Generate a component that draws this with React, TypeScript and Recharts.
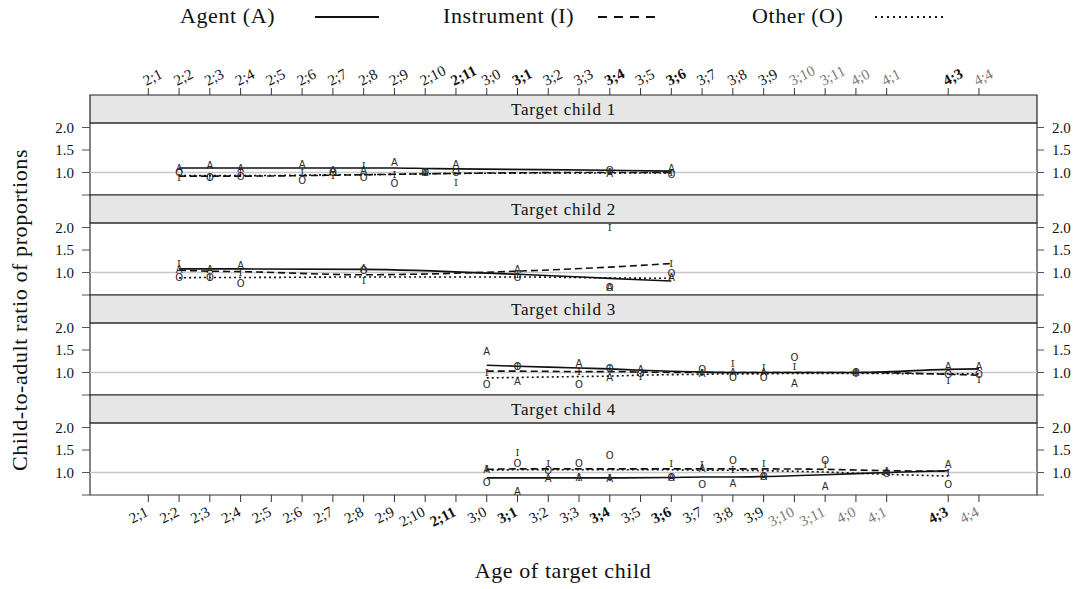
import React from 'react';
import { ComposedChart, XAxis, YAxis, Line, Scatter, ReferenceArea, ReferenceLine } from 'recharts';

// Ages are in months (2;1 = 25 months)
const tickAges = [25, 26, 27, 28, 29, 30, 31, 32, 33, 34, 35, 36, 37, 38, 39, 40, 41, 42, 43, 44, 45, 46, 47, 48, 49, 51, 52];
const tickLabels = ['2;1', '2;2', '2;3', '2;4', '2;5', '2;6', '2;7', '2;8', '2;9', '2;10', '2;11', '3;0', '3;1', '3;2', '3;3', '3;4', '3;5', '3;6', '3;7', '3;8', '3;9', '3;10', '3;11', '4;0', '4;1', '4;3', '4;4'];
const yTicks = [0.5, 1, 1.5, 2];

// Target child 1
const child1Ages = [26, 27, 28, 30, 31, 32, 33, 34, 35, 40, 42];
const child1Agent = [1.08, 1.16, 1.08, 1.18, 1.04, 1.05, 1.23, 1.01, 1.18, 0.98, 1.08];
const child1Instr = [0.9, 0.9, 1.03, 0.99, 0.93, 1.16, 0.95, 1.0, 0.78, 1.02, 1.0];
const child1Other = [1.01, 0.88, 0.92, 0.83, 1.01, 0.88, 0.75, 0.99, 1.0, 1.05, 0.95];
const child1AgentFit = [1.1, 1.1, 1.1, 1.1, 1.1, 1.1, 1.1, 1.09, 1.08, 1.05, 1.03];
const child1InstrFit = [0.92, 0.92, 0.92, 0.93, 0.94, 0.95, 0.96, 0.97, 0.98, 1.0, 1.0];
const child1OtherFit = [0.93, 0.93, 0.93, 0.94, 0.95, 0.95, 0.96, 0.97, 0.98, 0.99, 0.99];

// Target child 2
const child2Ages = [26, 27, 28, 32, 37, 40, 42];
const child2Agent = [1.07, 1.07, 1.16, 1.1, 1.07, 0.66, 0.9];
const child2Instr = [1.2, 0.9, 1.0, 0.82, 0.95, 1.99, 1.2];
const child2Other = [0.9, 0.9, 0.76, 1.05, 0.9, 0.66, 0.98];
const child2AgentFit = [1.08, 1.08, 1.08, 1.07, 0.96, 0.87, 0.81];
const child2InstrFit = [1.05, 1.03, 1.02, 0.95, 1.03, 1.12, 1.2];
const child2OtherFit = [0.88, 0.89, 0.89, 0.9, 0.9, 0.88, 0.87];

// Target child 3
const child3Ages = [36, 37, 39, 40, 41, 43, 44, 45, 46, 48, 51, 52];
const child3Agent = [1.47, 0.81, 1.2, 0.9, 1.07, 0.97, 1.0, 1.0, 0.75, 1.0, 1.14, 1.13];
const child3Instr = [1.0, 1.14, 1.02, 1.1, 0.92, 1.0, 1.2, 1.11, 1.14, 0.98, 0.82, 0.85];
const child3Other = [0.73, 1.14, 0.73, 1.1, 0.97, 1.06, 0.9, 0.9, 1.33, 1.0, 0.96, 0.96];
const child3AgentFit = [1.16, 1.14, 1.1, 1.08, 1.05, 1.01, 1.0, 1.0, 1.0, 1.0, 1.07, 1.08];
const child3InstrFit = [1.03, 1.03, 1.02, 1.02, 1.01, 1.0, 1.0, 1.0, 1.0, 1.0, 0.96, 0.94];
const child3OtherFit = [0.88, 0.89, 0.91, 0.92, 0.94, 0.96, 0.97, 0.97, 0.98, 0.98, 0.97, 0.97];

// Target child 4
const child4Ages = [36, 37, 38, 39, 40, 42, 43, 44, 45, 47, 49, 51];
const child4Agent = [1.07, 0.58, 0.86, 0.88, 0.87, 0.9, 1.1, 0.76, 0.92, 0.7, 1.0, 1.18];
const child4Instr = [1.1, 1.44, 1.2, 0.9, 0.88, 1.2, 1.18, 1.07, 1.2, 1.17, 1.05, 1.0];
const child4Other = [0.77, 1.2, 1.05, 1.2, 1.38, 0.9, 0.73, 1.27, 0.92, 1.26, 0.98, 0.73];
const child4AgentFit = [0.88, 0.88, 0.88, 0.88, 0.88, 0.89, 0.9, 0.9, 0.91, 0.95, 1.0, 1.04];
const child4InstrFit = [1.07, 1.08, 1.08, 1.08, 1.08, 1.08, 1.08, 1.08, 1.08, 1.07, 1.04, 1.03];
const child4OtherFit = [1.05, 1.06, 1.06, 1.06, 1.06, 1.06, 1.05, 1.05, 1.04, 1.01, 0.96, 0.92];

const boldTicks = ['2;11', '3;1', '3;4', '3;6', '4;3'];
const grayTicks = ['3;10', '3;11', '4;0', '4;1', '4;4'];

const SERIF = '"Liberation Serif", "DejaVu Serif", serif';
const W = 1080;
const X_DOMAIN: [number, number] = [23.105, 53.886];
const PANEL_TOP = 2.1;
const STRIP_TOP = 2.1 + 28 / 45;
const Y_DOMAIN: [number, number] = [0.5, STRIP_TOP];

const toPoints = (ages: number[], vals: number[]) => ages.map((age, i) => ({ age, v: vals[i] }));

const panels = [
  { title: 'Target child 1', ages: child1Ages, obs: [child1Agent, child1Instr, child1Other], fit: [child1AgentFit, child1InstrFit, child1OtherFit] },
  { title: 'Target child 2', ages: child2Ages, obs: [child2Agent, child2Instr, child2Other], fit: [child2AgentFit, child2InstrFit, child2OtherFit] },
  { title: 'Target child 3', ages: child3Ages, obs: [child3Agent, child3Instr, child3Other], fit: [child3AgentFit, child3InstrFit, child3OtherFit] },
  { title: 'Target child 4', ages: child4Ages, obs: [child4Agent, child4Instr, child4Other], fit: [child4AgentFit, child4InstrFit, child4OtherFit] },
];

// letter marker per series: A and O sans, I with serifs
const letters = ['A', 'I', 'O'];
const letterFonts = ['"DejaVu Sans", sans-serif', '"DejaVu Serif", serif', '"DejaVu Sans", sans-serif'];
const dashes = [undefined, '7 4', '2 3'];

const tickStyle = (label: string) => ({
  fill: grayTicks.includes(label) ? '#7a7a7a' : '#111',
  fontWeight: boldTicks.includes(label) ? 700 : 400,
});

const labelFor = (v: number) => tickLabels[tickAges.indexOf(v)] ?? '';

const TopTick = (props: any) => {
  const { x, y, payload } = props;
  const label = labelFor(payload.value);
  const tx = x - 2;
  const ty = y;
  return (
    <text x={tx} y={ty} textAnchor="start" fontFamily={SERIF} fontSize={15}
      transform={`rotate(-27 ${tx} ${ty})`} {...tickStyle(label)}>
      {label}
    </text>
  );
};

const BottomTick = (props: any) => {
  const { x, y, payload } = props;
  const label = labelFor(payload.value);
  const tx = x + 1;
  const ty = y + 11;
  return (
    <text x={tx} y={ty} textAnchor="end" fontFamily={SERIF} fontSize={15}
      transform={`rotate(-27 ${tx} ${ty})`} {...tickStyle(label)}>
      {label}
    </text>
  );
};

const letterShape = (k: number) => (props: any) => (
  <text x={props.cx} y={props.cy} textAnchor="middle" dominantBaseline="central"
    fontFamily={letterFonts[k]} fontSize={10} fill="#2a2a2a">
    {letters[k]}
  </text>
);

const yFmt = (v: number) => (v === 0.5 ? '' : v.toFixed(1));

function Panel({ idx }: { idx: number }) {
  const p = panels[idx];
  const first = idx === 0;
  const last = idx === panels.length - 1;
  const mTop = first ? 65 : 5;
  const mBottom = 5;
  const axisH = first ? 30 : last ? 45 : 0;
  const height = mTop + (first ? axisH : 0) + 100 + (last ? axisH : 0) + mBottom;
  const top = first ? 0 : 95 + 100 * idx - mTop;

  return (
    <div style={{ position: 'absolute', left: 0, top }}>
      <ComposedChart width={W} height={height} margin={{ top: mTop, right: 0, bottom: mBottom, left: 0 }}>
        <XAxis
          xAxisId="x"
          type="number"
          dataKey="age"
          domain={X_DOMAIN}
          ticks={tickAges}
          interval={0}
          orientation={first ? 'top' : 'bottom'}
          hide={!first && !last}
          height={axisH}
          axisLine={false}
          tickSize={7}
          tickLine={{ stroke: '#333' }}
          tick={first ? <TopTick /> : <BottomTick />}
          allowDataOverflow
        />
        <YAxis
          yAxisId="y"
          type="number"
          dataKey="v"
          domain={Y_DOMAIN}
          ticks={yTicks}
          interval={0}
          width={90}
          axisLine={false}
          tickSize={8}
          tickMargin={8}
          tickLine={{ stroke: '#555' }}
          tickFormatter={yFmt}
          tick={{ fontFamily: SERIF, fontSize: 15, fill: '#111' }}
          allowDataOverflow
        />
        <YAxis
          yAxisId="r"
          orientation="right"
          type="number"
          domain={Y_DOMAIN}
          ticks={yTicks}
          interval={0}
          width={43}
          axisLine={false}
          tickSize={7}
          tickMargin={8}
          tickLine={{ stroke: '#555' }}
          tickFormatter={yFmt}
          tick={{ fontFamily: SERIF, fontSize: 15, fill: '#111', textAnchor: 'start' }}
          allowDataOverflow
        />
        <ReferenceArea
          xAxisId="x"
          yAxisId="y"
          y1={PANEL_TOP}
          y2={STRIP_TOP}
          fill="#e6e6e6"
          fillOpacity={1}
          stroke="#222"
          strokeWidth={1.2}
          label={{ value: p.title, position: 'center', fontFamily: SERIF, fontSize: 17, letterSpacing: 0.8, fill: '#111' }}
        />
        <ReferenceArea
          xAxisId="x"
          yAxisId="y"
          y1={0.5}
          y2={PANEL_TOP}
          fill="#fff"
          fillOpacity={0}
          stroke="#333"
          strokeWidth={1.2}
        />
        <ReferenceLine xAxisId="x" yAxisId="y" y={1} stroke="#c8c8c8" strokeWidth={1.5} />
        {p.fit.map((vals, k) => (
          <Line
            key={'fit' + k}
            xAxisId="x"
            yAxisId="y"
            data={toPoints(p.ages, vals)}
            dataKey="v"
            type="monotone"
            stroke="#111"
            strokeWidth={1.6}
            strokeDasharray={dashes[k]}
            dot={false}
            activeDot={false}
            isAnimationActive={false}
          />
        ))}
        {p.obs.map((vals, k) => (
          <Scatter
            key={'obs' + k}
            xAxisId="x"
            yAxisId="y"
            data={toPoints(p.ages, vals)}
            dataKey="v"
            shape={letterShape(k)}
            isAnimationActive={false}
          />
        ))}
      </ComposedChart>
    </div>
  );
}

const bigText: React.CSSProperties = {
  position: 'absolute',
  fontFamily: SERIF,
  fontSize: 22,
  letterSpacing: 0.6,
  color: '#111',
  whiteSpace: 'nowrap',
};

export default function App() {
  return (
    <div style={{ position: 'absolute', left: 0, top: 0, width: W, height: 589, background: '#fff' }}>
      <div style={{ ...bigText, left: 180, top: 3 }}>Agent (A)</div>
      <svg style={{ position: 'absolute', left: 314, top: 10 }} width={66} height={14}>
        <line x1={1} y1={7} x2={65} y2={7} stroke="#111" strokeWidth={2.2} />
      </svg>
      <div style={{ ...bigText, left: 443, top: 3 }}>Instrument (I)</div>
      <svg style={{ position: 'absolute', left: 597, top: 10 }} width={66} height={14}>
        <line x1={1} y1={7} x2={65} y2={7} stroke="#111" strokeWidth={2.2} strokeDasharray="9 7" />
      </svg>
      <div style={{ ...bigText, left: 752, top: 3 }}>Other (O)</div>
      <svg style={{ position: 'absolute', left: 874, top: 10 }} width={74} height={14}>
        <line x1={1} y1={7} x2={73} y2={7} stroke="#111" strokeWidth={2.2} strokeDasharray="2 4" />
      </svg>

      {panels.map((_, i) => (
        <Panel key={i} idx={i} />
      ))}

      <div style={{ ...bigText, left: 20, top: 310, transform: 'translate(-50%, -50%) rotate(-90deg)' }}>
        Child-to-adult ratio of proportions
      </div>
      <div style={{ ...bigText, left: 563, top: 571, transform: 'translate(-50%, -50%)' }}>
        Age of target child
      </div>
    </div>
  );
}
